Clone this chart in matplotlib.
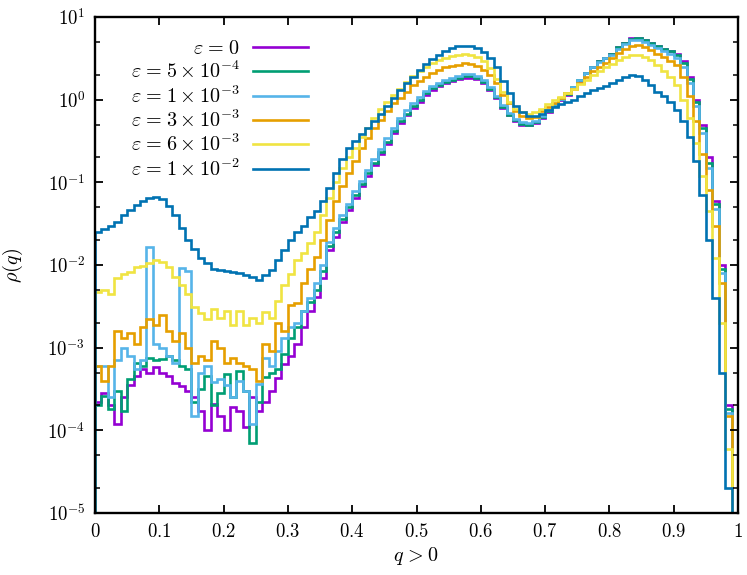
import numpy as np
import matplotlib
matplotlib.use('Agg')
import matplotlib.pyplot as plt
from matplotlib.ticker import FixedLocator, FuncFormatter, LogLocator, NullFormatter

plt.rcParams['mathtext.fontset'] = 'cm'
plt.rcParams['font.family'] = 'serif'
plt.rcParams['font.serif'] = ['DejaVu Serif']

# histogram bin edges (q from 0 to 1, width 0.01)
bin_edges = np.linspace(0.0, 1.0, 101)

rho_eps0 = [
    2.2e-4, 2.8e-4, 2.0e-4, 1.2e-4, 2.5e-4, 3.5e-4, 4.5e-4, 5.5e-4, 5.0e-4, 5.8e-4,
    5.0e-4, 4.5e-4, 3.7e-4, 3.4e-4, 3.0e-4, 2.5e-4, 1.7e-4, 1.0e-4, 2.1e-4, 1.5e-4,
    1.0e-4, 1.9e-4, 1.7e-4, 1.1e-4, 2.5e-4, 1.7e-4, 2.2e-4, 3.0e-4, 4.3e-4, 6.3e-4,
    8.0e-4, 1.1e-3, 1.8e-3, 2.8e-3, 4.1e-3, 7.0e-3, 0.0152, 0.022, 0.033, 0.046,
    0.065, 0.09, 0.12, 0.16, 0.22, 0.29, 0.40, 0.52, 0.65, 0.80,
    0.95, 1.15, 1.32, 1.45, 1.58, 1.7, 1.8, 1.85, 1.85, 1.8,
    1.6, 1.3, 1.05, 0.8, 0.65, 0.55, 0.50, 0.49, 0.52, 0.60,
    0.70, 0.85, 1.0, 1.15, 1.4, 1.7, 2.1, 2.5, 2.9, 3.2,
    3.6, 4.3, 4.9, 5.5, 5.6, 5.3, 4.8, 4.4, 4.1, 3.9,
    3.6, 2.9, 1.9, 1.0, 0.5, 0.2, 0.06, 0.01, 2e-4, 1e-7]

rho_eps5e4 = [
    2.0e-4, 2.6e-4, 1.8e-4, 3.0e-4, 1.7e-4, 4.2e-4, 6.5e-4, 6.0e-4, 7.5e-4, 7.0e-4,
    7.2e-4, 8.0e-4, 7.0e-4, 6.0e-4, 5.5e-4, 2.2e-4, 3.2e-4, 4.5e-4, 2.0e-4, 2.8e-4,
    4.8e-4, 2.5e-4, 5.2e-4, 3.0e-4, 7e-5, 2.2e-4, 4.4e-4, 5.0e-4, 5.5e-4, 8.5e-4,
    1.3e-3, 1.8e-3, 2.8e-3, 3.6e-3, 5.0e-3, 8.5e-3, 0.017, 0.025, 0.036, 0.05,
    0.07, 0.095, 0.13, 0.17, 0.23, 0.31, 0.42, 0.55, 0.68, 0.84,
    1.0, 1.2, 1.37, 1.5, 1.63, 1.75, 1.85, 1.92, 1.92, 1.85,
    1.65, 1.35, 1.08, 0.82, 0.66, 0.56, 0.51, 0.50, 0.53, 0.61,
    0.72, 0.87, 1.02, 1.18, 1.42, 1.72, 2.1, 2.5, 2.9, 3.2,
    3.6, 4.3, 4.9, 5.4, 5.5, 5.2, 4.8, 4.4, 4.1, 3.85,
    3.5, 2.8, 1.8, 0.95, 0.45, 0.17, 0.055, 0.009, 1.8e-4, 1e-7]

rho_eps1e3 = [
    6.0e-4, 6.0e-4, 2.5e-4, 7.0e-4, 1.0e-3, 8.0e-4, 5.5e-4, 7.0e-4, 0.0166, 1.1e-3,
    1.0e-3, 8.0e-4, 6.5e-4, 0.0093, 0.0085, 1.5e-4, 5.0e-4, 6.0e-4, 3.8e-4, 4.2e-4,
    3.5e-4, 2.5e-4, 4.0e-4, 3.0e-4, 1.2e-4, 3.6e-4, 7.5e-4, 6.0e-4, 9.0e-4, 1.3e-3,
    1.8e-3, 2.0e-3, 2.8e-3, 4.0e-3, 6.0e-3, 0.010, 0.019, 0.028, 0.040, 0.055,
    0.078, 0.105, 0.14, 0.19, 0.25, 0.34, 0.46, 0.60, 0.74, 0.90,
    1.08, 1.28, 1.45, 1.6, 1.73, 1.85, 1.95, 2.02, 2.02, 1.95,
    1.72, 1.42, 1.12, 0.86, 0.69, 0.58, 0.53, 0.52, 0.55, 0.63,
    0.74, 0.88, 1.03, 1.2, 1.43, 1.73, 2.1, 2.5, 2.85, 3.15,
    3.5, 4.15, 4.7, 5.2, 5.3, 5.0, 4.6, 4.2, 3.9, 3.6,
    3.2, 2.5, 1.6, 0.85, 0.4, 0.15, 0.048, 0.008, 1.6e-4, 1e-7]

rho_eps3e3 = [
    6.0e-4, 4.0e-4, 6.0e-4, 1.6e-3, 1.3e-3, 1.5e-3, 1.1e-3, 1.8e-3, 2.2e-3, 1.9e-3,
    2.5e-3, 1.6e-3, 1.2e-3, 1.5e-3, 1.0e-3, 6.5e-4, 8.0e-4, 7.0e-4, 1.2e-3, 1.0e-3,
    6.5e-4, 7.5e-4, 6.5e-4, 6.0e-4, 5.5e-4, 4.0e-4, 1.1e-3, 9.0e-4, 2.0e-3, 1.6e-3,
    3.3e-3, 3.5e-3, 6.0e-3, 9.0e-3, 0.0125, 0.02, 0.035, 0.06, 0.09, 0.13,
    0.18, 0.26, 0.34, 0.45, 0.57, 0.72, 0.90, 1.05, 1.25, 1.5,
    1.7, 1.9, 2.1, 2.3, 2.45, 2.55, 2.65, 2.75, 2.7, 2.55,
    2.3, 2.0, 1.6, 1.15, 0.9, 0.72, 0.63, 0.60, 0.62, 0.72,
    0.82, 0.92, 1.05, 1.2, 1.35, 1.6, 1.9, 2.2, 2.5, 2.8,
    3.2, 3.7, 4.1, 4.5, 4.6, 4.3, 4.0, 3.6, 3.3, 2.9,
    2.6, 1.9, 1.1, 0.55, 0.22, 0.08, 0.03, 0.006, 1.5e-4, 1e-7]

rho_eps6e3 = [
    0.0047, 0.0050, 0.0044, 0.0070, 0.0078, 0.0083, 0.0095, 0.0097, 0.0105, 0.0115,
    0.011, 0.0095, 0.0072, 0.0058, 0.0045, 0.0031, 0.0026, 0.0022, 0.0029, 0.0023,
    0.0028, 0.0019, 0.0028, 0.0019, 0.0023, 0.0020, 0.0027, 0.0023, 0.0037, 0.0058,
    0.0078, 0.0115, 0.014, 0.0185, 0.025, 0.04, 0.065, 0.10, 0.15, 0.20,
    0.26, 0.35, 0.45, 0.60, 0.78, 0.95, 1.15, 1.35, 1.65, 1.95,
    2.2, 2.5, 2.8, 3.0, 3.2, 3.35, 3.5, 3.6, 3.5, 3.3,
    2.9, 2.4, 1.8, 1.25, 0.95, 0.78, 0.70, 0.68, 0.70, 0.78,
    0.88, 0.98, 1.08, 1.2, 1.35, 1.55, 1.75, 2.0, 2.25, 2.45,
    2.7, 3.0, 3.25, 3.45, 3.5, 3.3, 3.0, 2.6, 2.2, 1.9,
    1.5, 1.0, 0.6, 0.3, 0.12, 0.045, 0.012, 0.002, 6e-5, 1e-7]

rho_eps1e2 = [
    0.025, 0.027, 0.030, 0.033, 0.040, 0.046, 0.053, 0.060, 0.065, 0.066,
    0.062, 0.052, 0.040, 0.028, 0.020, 0.0155, 0.012, 0.0105, 0.0090, 0.0088,
    0.0085, 0.0082, 0.0080, 0.0076, 0.0072, 0.0066, 0.0075, 0.0088, 0.0115, 0.015,
    0.020, 0.025, 0.030, 0.038, 0.045, 0.060, 0.085, 0.13, 0.19, 0.26,
    0.32, 0.38, 0.45, 0.55, 0.68, 0.85, 1.05, 1.3, 1.6, 1.9,
    2.3, 2.7, 3.1, 3.5, 3.9, 4.2, 4.4, 4.5, 4.4, 4.2,
    3.8, 3.2, 2.5, 1.7, 1.2, 0.85, 0.70, 0.64, 0.63, 0.68,
    0.75, 0.82, 0.88, 0.95, 1.0, 1.1, 1.2, 1.3, 1.37, 1.45,
    1.6, 1.75, 1.9, 2.0, 1.95, 1.75, 1.5, 1.25, 1.1, 0.95,
    0.75, 0.55, 0.35, 0.18, 0.07, 0.02, 0.004, 5e-4, 2e-5, 1e-7]

series = [rho_eps0, rho_eps5e4, rho_eps1e3, rho_eps3e3, rho_eps6e3, rho_eps1e2]
sp = r'\hspace{0.09}'
labels = [r'$\varepsilon' + sp + '=' + sp + r'0$',
          r'$\varepsilon' + sp + '=' + sp + r'5\times 10^{-4}$',
          r'$\varepsilon' + sp + '=' + sp + r'1\times 10^{-3}$',
          r'$\varepsilon' + sp + '=' + sp + r'3\times 10^{-3}$',
          r'$\varepsilon' + sp + '=' + sp + r'6\times 10^{-3}$',
          r'$\varepsilon' + sp + '=' + sp + r'1\times 10^{-2}$']
colors = ['#9400D3', '#009E73', '#56B4E9', '#E69F00', '#F0E442', '#0072B2']

x_ticks = [0, 0.1, 0.2, 0.3, 0.4, 0.5, 0.6, 0.7, 0.8, 0.9, 1]
y_ticks = [1e-5, 1e-4, 1e-3, 1e-2, 1e-1, 1e0, 1e1]

fig = plt.figure(figsize=(7.47, 5.75), dpi=100)
ax = fig.add_axes([95 / 747, 1 - 513 / 575, 643 / 747, 496 / 575])

for vals, col, lab in zip(series, colors, labels):
    ax.stairs(vals, bin_edges, baseline=1e-9, color=col, lw=1.9, label=lab)

ax.set_yscale('log')
ax.set_xlim(0, 1)
ax.set_ylim(1e-5, 1e1)

ax.xaxis.set_major_locator(FixedLocator(x_ticks))
ax.xaxis.set_major_formatter(FuncFormatter(lambda v, p: r'$%g$' % v))
ax.yaxis.set_major_locator(FixedLocator(y_ticks))
ax.yaxis.set_major_formatter(FuncFormatter(lambda v, p: r'$10^{%d}$' % int(round(np.log10(v)))))
ax.yaxis.set_minor_locator(LogLocator(base=10, subs=(2, 5), numticks=20))
ax.yaxis.set_minor_formatter(NullFormatter())

ax.tick_params(which='both', direction='in', top=True, right=True, labelsize=13.5)
ax.tick_params(which='major', length=6, width=1.3, pad=7)
ax.tick_params(which='minor', length=3.5, width=1.1)
for s in ax.spines.values():
    s.set_linewidth(1.7)

ax.set_xlabel(r'$q' + sp + '>' + sp + '0$', fontsize=14.5, labelpad=3)
ax.set_ylabel(r'$\rho(q)$', fontsize=14.5, labelpad=16)

leg = ax.legend(loc='upper right', bbox_to_anchor=((308 - 95) / 643, (513 - 39) / 496),
                frameon=False, markerfirst=False, fontsize=14.5, handlelength=2.75,
                handletextpad=0.65, labelspacing=0.14, borderpad=0, borderaxespad=0)

fig.savefig('out.png', dpi=100)
